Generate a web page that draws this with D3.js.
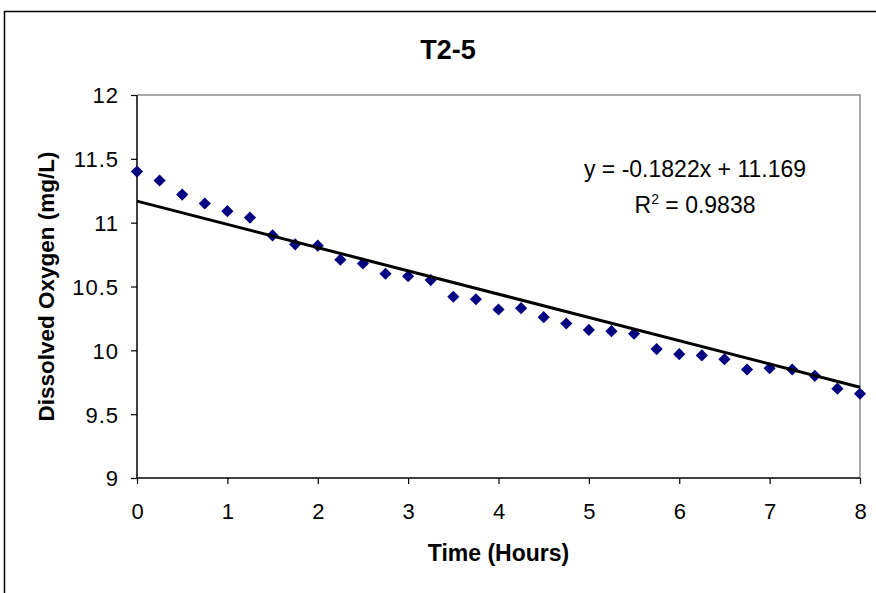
<!DOCTYPE html>
<html>
<head>
<meta charset="utf-8">
<script src="https://cdn.jsdelivr.net/npm/d3@7"></script>
<style>
  body { margin: 0; background: #fff; }
  svg { display: block; font-family: 'Liberation Sans', Arial, sans-serif; }
</style>
</head>
<body>
<svg id="chart" width="876" height="593"></svg>
<script>
// sampling times (hours) and measured dissolved oxygen (mg/L)
let hours = [0, 0.25, 0.5, 0.75, 1, 1.25, 1.5, 1.75, 2, 2.25, 2.5, 2.75, 3, 3.25, 3.5, 3.75,
    4, 4.25, 4.5, 4.75, 5, 5.25, 5.5, 5.75, 6, 6.25, 6.5, 6.75, 7, 7.25, 7.5, 7.75, 8]
let oxygen = [11.40, 11.33, 11.22, 11.15, 11.09, 11.04, 10.90, 10.83, 10.82, 10.71, 10.68, 10.60,
    10.58, 10.55, 10.42, 10.40, 10.32, 10.33, 10.26, 10.21, 10.16, 10.15, 10.13, 10.01,
    9.97, 9.96, 9.93, 9.85, 9.86, 9.85, 9.80, 9.70, 9.66]
let xTicks = [0, 1, 2, 3, 4, 5, 6, 7, 8]
let yTicks = [9, 9.5, 10, 10.5, 11, 11.5, 12]
let trendSlope = -0.1822
let trendIntercept = 11.169
let rSquared = 0.9838

let data = hours.map((h, i) => ({ x: h, y: oxygen[i] }))

let chart = d3.select('#chart')
let plotLeft = 137, plotRight = 860, plotTop = 95, plotBottom = 478

// outer chart frame
chart.append('rect')
    .attr('x', 4.5).attr('y', 11.5)
    .attr('width', 900).attr('height', 700)
    .attr('fill', 'none').attr('stroke', '#000').attr('stroke-width', 1.5)

let xScale = d3.scaleLinear().domain([0, 8]).range([plotLeft, plotRight])
let yScale = d3.scaleLinear().domain([9, 12]).range([plotBottom, plotTop])

// grey plot border on top and right
chart.append('path')
    .attr('d', `M${plotLeft},${plotTop}H${plotRight}V${plotBottom}`)
    .attr('fill', 'none').attr('stroke', '#8c8c8c').attr('stroke-width', 1.5)

// axes
let axisBottom = d3.axisBottom(xScale).tickValues(xTicks).tickSize(6).tickFormat(d3.format('d'))
let gx = chart.append('g')
    .attr('transform', 'translate(0,' + plotBottom + ')')
    .call(axisBottom)
gx.select('.domain').attr('d', `M${plotLeft},0H${plotRight}`).attr('stroke-width', 1.5)
gx.selectAll('.tick line').attr('stroke-width', 1.2)
gx.selectAll('.tick text')
    .attr('font-size', 22).attr('font-family', "'Liberation Sans', Arial, sans-serif")
    .attr('fill', '#000').attr('dy', null).attr('y', 41)

let axisLeft = d3.axisLeft(yScale).tickValues(yTicks).tickSize(6).tickFormat((d) => d)
let gy = chart.append('g')
    .attr('transform', 'translate(' + plotLeft + ',0)')
    .call(axisLeft)
gy.select('.domain').attr('d', `M0,${plotTop}V${plotBottom}`).attr('stroke-width', 1.5)
gy.selectAll('.tick line').attr('stroke-width', 1.2)
gy.selectAll('.tick text')
    .attr('font-size', 22).attr('font-family', "'Liberation Sans', Arial, sans-serif")
    .attr('letter-spacing', 1)
    .attr('fill', '#000').attr('x', -18).attr('dy', '0.36em')

// data markers
chart.append('g')
    .selectAll('path')
    .data(data)
    .enter()
    .append('path')
    .attr('d', d3.symbol(d3.symbolSquare, 74))
    .attr('transform', (d) => `translate(${xScale(d.x)},${yScale(d.y)}) rotate(45)`)
    .attr('fill', '#000080')

// linear trend line
chart.append('line')
    .attr('x1', xScale(0)).attr('y1', yScale(trendIntercept))
    .attr('x2', xScale(8)).attr('y2', yScale(trendIntercept + trendSlope * 8))
    .attr('stroke', '#000').attr('stroke-width', 3)

// trend equation
chart.append('text')
    .attr('x', 695).attr('y', 177)
    .attr('text-anchor', 'middle')
    .attr('font-size', 23)
    .text(`y = ${trendSlope}x + ${trendIntercept}`)
let r2 = chart.append('text')
    .attr('x', 695).attr('y', 213)
    .attr('text-anchor', 'middle')
    .attr('font-size', 23)
r2.append('tspan').text('R')
r2.append('tspan').attr('font-size', 14).attr('dy', -9).text('2')
r2.append('tspan').attr('dy', 9).text(` = ${rSquared}`)

// titles
chart.append('text')
    .attr('x', 448).attr('y', 59)
    .attr('text-anchor', 'middle')
    .attr('font-size', 27).attr('font-weight', 'bold')
    .text('T2-5')
chart.append('text')
    .attr('x', (plotLeft + plotRight) / 2).attr('y', 561)
    .attr('text-anchor', 'middle')
    .attr('font-size', 23).attr('font-weight', 'bold')
    .text('Time (Hours)')
chart.append('text')
    .attr('transform', `translate(54,${(plotTop + plotBottom) / 2}) rotate(-90)`)
    .attr('text-anchor', 'middle')
    .attr('font-size', 22.5).attr('font-weight', 'bold')
    .text('Dissolved Oxygen (mg/L)')
</script>
</body>
</html>
